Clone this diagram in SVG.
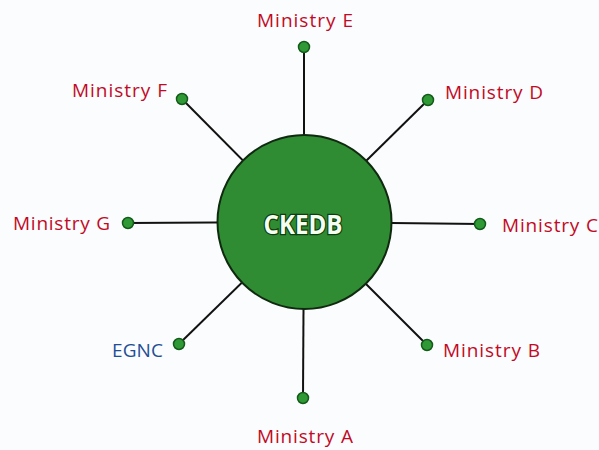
<svg xmlns="http://www.w3.org/2000/svg" width="599" height="450" viewBox="0 0 599 450">
<style>
.bg{fill:#fbfcfd}
.ln{stroke:#111;stroke-width:2;fill:none}
.dot{fill:#2f9a35;stroke:#145a1a;stroke-width:1.5}
.lbl{font-family:"Open Sans","Liberation Sans",sans-serif;font-size:19px;fill:#c20a26;text-anchor:middle}
.blue{fill:#1f4e96}
.hub{fill:#2f8c33;stroke:#102a10;stroke-width:2}
.hubt{font-family:"Open Sans","Liberation Sans",sans-serif;font-size:26px;font-weight:bold;fill:#f4fff0;stroke:#0d3d10;stroke-width:2.5;paint-order:stroke;text-anchor:middle}
</style>
<rect class="bg" x="0" y="0" width="599" height="450"/>
<g id="connectors">
<line class="ln" x1="304" y1="47" x2="304" y2="222"/>
<line class="ln" x1="182" y1="99" x2="304" y2="222"/>
<line class="ln" x1="128" y1="223" x2="304" y2="222"/>
<line class="ln" x1="179" y1="344" x2="304" y2="222"/>
<line class="ln" x1="303" y1="398" x2="304" y2="222"/>
<line class="ln" x1="428" y1="100" x2="304" y2="222"/>
<line class="ln" x1="480" y1="224" x2="304" y2="222"/>
<line class="ln" x1="427" y1="345" x2="304" y2="222"/>
</g>
<g id="CKEDB">
<circle class="hub" cx="304.5" cy="222" r="87"/>
<text class="hubt" x="303" y="234" textLength="79" lengthAdjust="spacingAndGlyphs">CKEDB</text>
</g>
<g id="ministry-e"><circle class="dot" cx="304" cy="47" r="5.5"/><text class="lbl" x="305" y="27" textLength="96">Ministry E</text></g>
<g id="ministry-f"><circle class="dot" cx="182" cy="99" r="5.5"/><text class="lbl" x="119.5" y="97" textLength="95">Ministry F</text></g>
<g id="ministry-g"><circle class="dot" cx="128" cy="223" r="5.5"/><text class="lbl" x="61.5" y="230" textLength="97">Ministry G</text></g>
<g id="egnc"><circle class="dot" cx="179" cy="344" r="5.5"/><text class="lbl blue" x="137.5" y="357" textLength="51">EGNC</text></g>
<g id="ministry-a"><circle class="dot" cx="303" cy="398" r="5.5"/><text class="lbl" x="305" y="443" textLength="96">Ministry A</text></g>
<g id="ministry-d"><circle class="dot" cx="428" cy="100" r="5.5"/><text class="lbl" x="494" y="99" textLength="98">Ministry D</text></g>
<g id="ministry-c"><circle class="dot" cx="480" cy="224" r="5.5"/><text class="lbl" x="550" y="232" textLength="96">Ministry C</text></g>
<g id="ministry-b"><circle class="dot" cx="427" cy="345" r="5.5"/><text class="lbl" x="491.5" y="357" textLength="97">Ministry B</text></g>
</svg>
